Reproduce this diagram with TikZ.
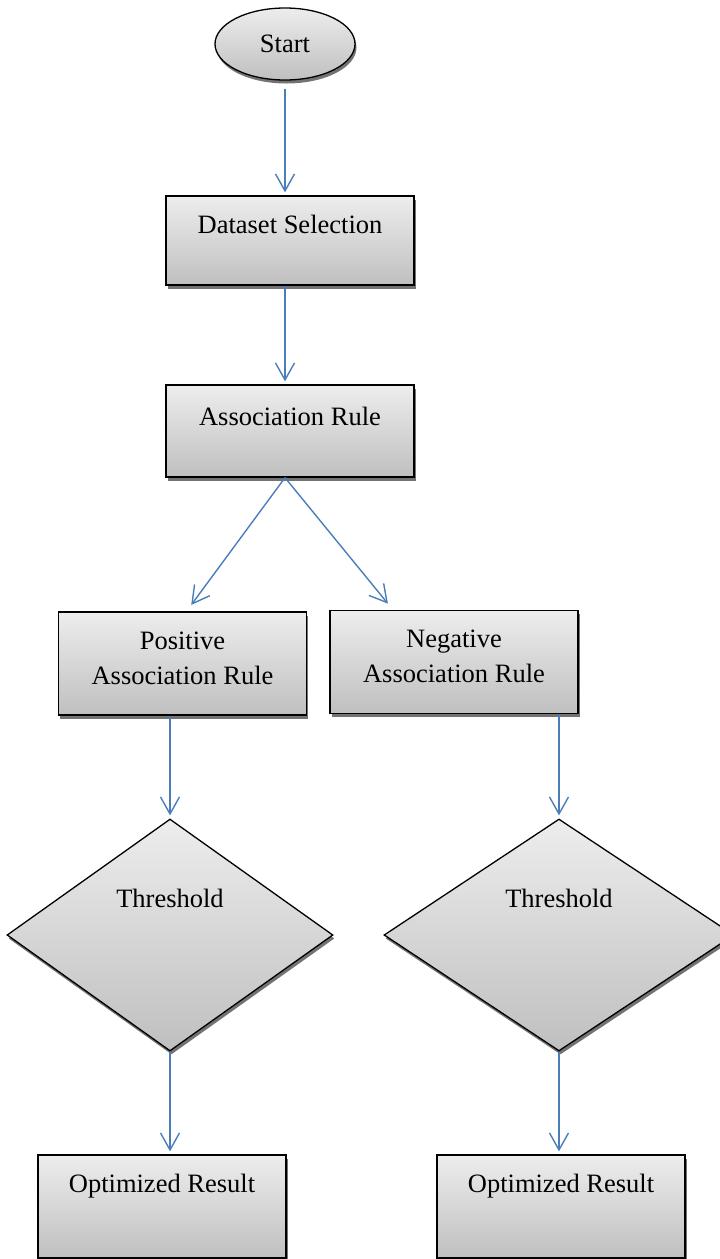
\documentclass[tikz,border=0pt]{standalone}
\usepackage{fontspec}
\setmainfont{Liberation Serif}
\usepackage{tikz}
\usetikzlibrary{arrows.meta,shapes.geometric,shadows}
\definecolor{arrblue}{HTML}{4A7EBB}

\begin{document}
\begin{tikzpicture}[
  x=1pt,y=-1pt,
  font=\fontsize{26.5}{35}\selectfont,
  boxfill/.style={draw,line width=1.3pt,top color=gray!14,bottom color=gray!50,
    drop shadow={shadow xshift=1.5pt,shadow yshift=-3.5pt,fill=black!55,opacity=1}},
  box/.style={boxfill,rectangle,align=center,minimum width=248pt,inner sep=0pt,text height=37pt},
  term/.style={boxfill,ellipse,minimum width=140pt,minimum height=72pt,inner sep=0pt},
  dec/.style={boxfill,diamond,inner sep=0pt,minimum height=232pt,text height=20pt,text depth=76pt},
  arr/.style={-{Straight Barb[length=17pt,width=19pt]},line width=1.4pt,arrblue,shorten >=3pt}
]
\useasboundingbox (0,0) rectangle (720,1259);
\node[term] (start) at (285,44) {Start};
\node[box,text depth=52pt] (ds) at (290,240.5) {Dataset Selection};
\node[box,text height=40pt,text depth=52pt] (ar) at (290,431) {Association Rule};
\node[box,text height=72pt,text depth=31pt] (pos) at (182.5,663.5) {Positive\\Association Rule};
\node[box,text height=72pt,text depth=31pt] (neg) at (454,662) {Negative\\Association Rule};
\node[dec,minimum width=326pt] (thl) at (170,935) {Threshold};
\node[dec,minimum width=350pt] (thr) at (559,935) {Threshold};
\node[box,text depth=66pt] (orl) at (162,1206.5) {Optimized Result};
\node[box,text depth=66pt] (orr) at (561,1206.5) {Optimized Result};
\draw[arr,shorten <=8pt] (start.south) -- (start.south |- ds.north);
\draw[arr] (start.south |- ds.south) -- (start.south |- ar.north);
\draw[arr,shorten >=8pt] (start.south |- ar.south) -- ([xshift=4pt]pos.north);
\draw[arr,shorten >=8pt] (start.south |- ar.south) -- ([xshift=-61pt]neg.north);
\draw[arr] (thl.north |- pos.south) -- (thl.north);
\draw[arr] (thr.north |- neg.south) -- (thr.north);
\draw[arr] (thl.south) -- (thl.south |- orl.north);
\draw[arr] (thr.south) -- (thr.south |- orr.north);
\end{tikzpicture}
\end{document}
